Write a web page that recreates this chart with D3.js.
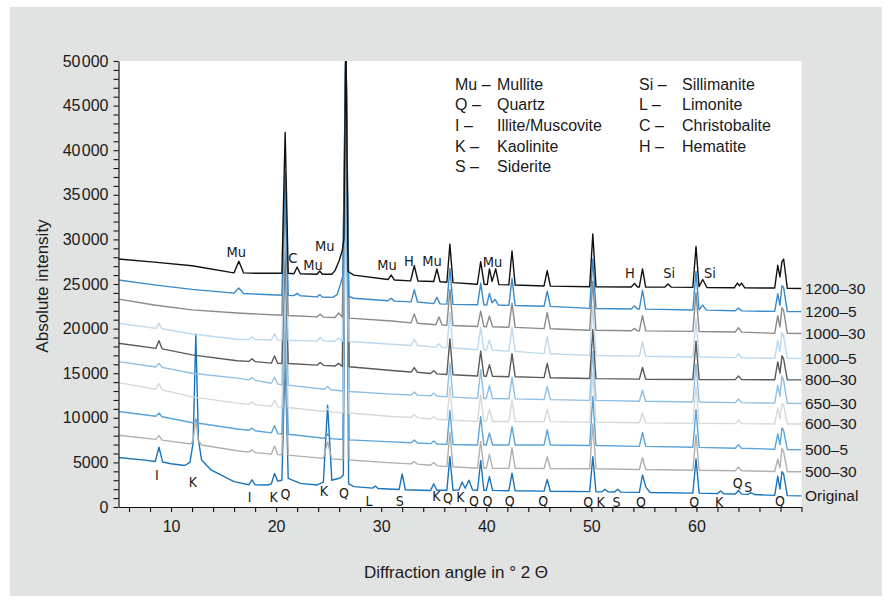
<!DOCTYPE html>
<html><head><meta charset="utf-8">
<script src="https://cdn.jsdelivr.net/npm/d3@7"></script>
<style>
body{margin:0;background:#fff;}
text{font-family:"Liberation Sans",Arial,sans-serif;fill:#1a1a1a;}
.narrow{font-family:"Liberation Sans Narrow","Arial Narrow","DejaVu Sans Condensed",sans-serif;}
</style></head><body>
<svg id="c" width="888" height="602"></svg>
<script>
// ---------- DATA (2θ in degrees, absolute intensity) ----------
const sOriginal = [[5,5550],[7.5,5250],[8.5,5100],[8.85,6700],[9.2,5050],[10,4850],[11.3,4650],[11.8,5000],[12.1,7200],[12.36,19400],[12.6,7600],[12.9,5300],[13.8,4150],[16.0,2850],[17.4,2500],[17.7,3050],[18.0,2480],[19.2,2470],[19.55,2600],[19.85,3750],[20.15,2900],[20.55,3000],[20.86,17000],[21.15,3200],[22.3,2650],[23.9,2470],[24.5,2800],[24.9,11400],[25.3,3000],[26.1,3250],[26.4,3600],[26.64,53000],[26.9,2600],[27.4,2280],[29.2,2120],[29.45,2350],[29.7,2080],[31.7,1960],[32.0,3700],[32.3,1930],[34.7,1850],[35.0,2600],[35.3,1880],[36.25,1870],[36.54,5650],[36.83,1880],[37.4,1900],[37.7,2800],[38.0,2100],[38.35,3000],[38.7,1900],[39.17,1880],[39.47,5200],[39.77,1880],[40.0,1870],[40.3,3400],[40.6,1860],[42.15,1830],[42.45,3800],[42.75,1820],[45.5,1780],[45.8,3100],[46.1,1770],[49.84,1720],[50.14,5650],[50.44,1710],[51.0,1700],[51.3,2000],[51.6,1690],[52.2,1680],[52.5,2000],[52.8,1670],[54.57,1640],[54.87,3600],[55.2,2200],[55.6,1620],[59.66,1560],[59.96,5400],[60.26,1550],[62.0,1500],[62.3,1800],[62.6,1480],[63.7,1450],[64.0,1850],[64.3,1440],[64.9,1420],[65.2,1600],[65.5,1400],[67.45,1300],[67.74,3450],[67.95,2000],[68.14,3950],[68.3,3700],[68.65,1270],[70,1250]];
const s500_30 = [[5,8050],[8.55,7580],[8.85,8000],[9.15,7500],[11.9,7060],[12.1,7500],[12.36,9900],[12.6,7400],[12.9,6950],[16.3,6300],[17.4,6150],[17.7,6400],[18.0,6100],[19.55,5930],[19.85,6830],[20.15,5880],[20.55,5840],[20.86,19800],[21.15,5810],[24.5,5450],[24.9,7300],[25.3,5400],[26.35,5300],[26.64,53000],[26.95,5270],[31,4950],[32.85,4830],[33.15,5080],[33.45,4810],[34.7,4680],[35.0,4980],[35.3,4640],[36.25,4530],[36.54,8330],[36.83,4510],[39.17,4340],[39.47,7340],[39.77,4340],[40.0,4340],[40.3,5890],[40.6,4340],[42.15,4330],[42.45,6630],[42.75,4330],[45.5,4310],[45.8,5610],[46.1,4310],[49.84,4280],[50.14,9300],[50.44,4280],[54.57,4200],[54.87,5550],[55.17,4200],[59.66,4120],[59.96,8120],[60.26,4120],[63.7,4060],[64.0,4460],[64.3,4060],[67.45,3980],[67.74,5380],[67.95,4400],[68.14,6580],[68.3,6200],[68.65,3960],[70,3950]];
const s500_5 = [[5,10700],[8.55,10180],[8.85,10530],[9.15,10120],[12.05,9440],[12.36,9750],[12.65,9390],[16.3,8750],[17.4,8600],[17.7,8850],[18.0,8550],[19.55,8310],[19.85,9110],[20.15,8230],[20.55,8190],[20.86,22200],[21.15,8150],[24.6,7700],[24.9,8200],[25.2,7670],[26.35,7570],[26.64,53000],[26.95,7530],[31,7300],[32.85,7200],[33.15,7500],[33.45,7180],[34.7,7100],[35.0,7400],[35.3,7070],[36.25,7020],[36.54,10820],[36.83,7010],[39.17,6950],[39.47,10150],[39.77,6950],[40.0,6950],[40.3,8300],[40.6,6950],[42.15,6950],[42.45,9000],[42.75,6950],[45.5,6950],[45.8,8650],[46.1,6950],[49.84,6900],[50.14,12400],[50.44,6900],[54.57,6800],[54.87,8350],[55.17,6800],[59.66,6700],[59.96,10900],[60.26,6690],[63.7,6590],[64.0,6990],[64.3,6580],[67.45,6480],[67.74,8180],[67.95,7000],[68.14,8860],[68.3,8550],[68.65,6450],[70,6400]];
const s600_30 = [[5,13950],[8.55,13200],[8.85,13850],[9.15,13130],[12,12350],[16.3,11650],[17.4,11520],[17.7,11770],[18.0,11480],[19.55,11290],[19.85,11990],[20.15,11230],[20.55,11180],[20.86,25150],[21.15,11150],[24.6,10700],[24.9,11000],[25.2,10660],[26.35,10570],[26.64,53000],[26.95,10540],[31,10150],[32.85,10050],[33.15,10340],[33.45,10020],[34.7,9870],[35.0,10150],[35.3,9830],[36.25,9750],[36.54,13550],[36.83,9730],[39.17,9600],[39.47,12600],[39.77,9600],[40.0,9600],[40.3,10950],[40.6,9590],[42.15,9590],[42.45,11990],[42.75,9590],[45.5,9570],[45.8,10970],[46.1,9570],[49.84,9520],[50.14,15020],[50.44,9520],[54.57,9440],[54.87,10540],[55.17,9430],[59.66,9380],[59.96,13580],[60.26,9380],[63.7,9350],[64.0,9750],[64.3,9350],[67.45,9310],[67.74,11110],[67.95,9900],[68.14,11610],[68.3,11400],[68.65,9300],[70,9300]];
const s650_30 = [[5,16300],[8.55,15700],[8.85,16100],[9.15,15650],[12,15000],[16.3,14450],[17.4,14250],[17.7,14500],[18.0,14200],[19.55,13870],[19.85,14550],[20.15,13800],[20.55,13690],[20.86,27700],[21.15,13660],[24.6,13200],[24.9,13500],[25.2,13150],[26.35,13000],[26.64,53000],[26.95,12950],[31,12650],[32.85,12560],[33.15,12900],[33.45,12540],[34.7,12460],[35.0,12750],[35.3,12440],[36.25,12340],[36.54,16150],[36.83,12320],[39.17,12180],[39.47,15380],[39.77,12170],[40.0,12170],[40.3,13620],[40.6,12160],[42.15,12130],[42.45,14580],[42.75,12120],[45.5,12050],[45.8,13500],[46.1,12040],[49.84,11950],[50.14,17450],[50.44,11950],[54.57,11850],[54.87,13100],[55.17,11850],[59.66,11770],[59.96,16070],[60.26,11770],[63.7,11700],[64.0,12100],[64.3,11700],[67.45,11640],[67.74,13640],[67.95,12400],[68.14,14700],[68.3,14200],[68.65,11620],[70,11600]];
const s800_30 = [[5,18350],[8.55,17780],[8.85,18650],[9.15,17730],[12,17050],[16.3,16400],[17.4,16320],[17.7,16620],[18.0,16300],[19.55,16130],[19.85,16930],[20.15,16110],[20.55,16090],[20.86,30100],[21.15,16080],[23.9,15900],[24.2,16200],[24.5,15880],[25.6,15800],[25.95,16100],[26.3,15760],[26.64,53000],[26.95,15720],[31,15300],[32.85,15130],[33.15,15630],[33.45,15100],[34.7,14970],[35.0,15270],[35.3,14930],[36.25,14850],[36.54,18850],[36.83,14830],[39.17,14680],[39.47,17480],[39.77,14670],[40.0,14660],[40.3,15950],[40.6,14650],[42.15,14610],[42.45,17200],[42.75,14600],[45.5,14500],[45.8,16100],[46.1,14490],[49.84,14400],[50.14,19900],[50.44,14390],[54.57,14340],[54.87,15640],[55.17,14330],[59.66,14290],[59.96,18600],[60.26,14290],[63.7,14280],[64.0,14680],[64.3,14280],[67.45,14260],[67.74,16260],[67.95,15000],[68.14,16950],[68.3,16600],[68.65,14250],[70,14250]];
const s1000_5 = [[5,20600],[8.55,20020],[8.85,20580],[9.15,19980],[12,19400],[16.3,18800],[17.4,18780],[17.7,19080],[18.0,18770],[19.55,18730],[19.85,19420],[20.15,18710],[20.55,18700],[20.86,32700],[21.15,18690],[23.9,18600],[24.2,19000],[24.5,18600],[25.6,18580],[25.95,18950],[26.3,18570],[26.64,53000],[26.95,18560],[31,18250],[32.85,18110],[33.15,18800],[33.45,18100],[35.2,17920],[35.5,18300],[35.8,17890],[36.25,17850],[36.54,21850],[36.83,17830],[39.17,17630],[39.47,20130],[39.77,17620],[40.0,17600],[40.3,18700],[40.6,17580],[42.15,17470],[42.45,20170],[42.75,17450],[45.5,17200],[45.8,19100],[46.1,17180],[49.84,17000],[50.14,22500],[50.44,16990],[54.57,16910],[54.87,18500],[55.17,16900],[59.66,16820],[59.96,21100],[60.26,16810],[63.7,16750],[64.0,17150],[64.3,16740],[67.45,16670],[67.74,18670],[67.95,17400],[68.14,19560],[68.3,19150],[68.65,16660],[70,16650]];
const s1000_30 = [[5,23300],[8.4,22650],[12,22100],[16.3,21750],[20.55,21490],[20.86,35500],[21.15,21470],[23.9,21310],[24.2,21600],[24.5,21290],[25.6,21250],[25.95,21750],[26.3,21300],[26.64,53000],[26.95,21180],[31,20850],[32.85,20640],[33.15,21650],[33.45,20600],[35.2,20430],[35.5,21300],[35.8,20400],[36.25,20370],[36.54,24400],[36.83,20350],[39.17,20230],[39.47,21950],[39.77,20220],[40.0,20210],[40.3,21400],[40.6,20200],[42.15,20150],[42.45,22850],[42.75,20140],[45.5,20000],[45.8,21800],[46.1,19990],[49.84,19820],[50.14,25300],[50.44,19810],[53.8,19760],[54.1,20000],[54.4,19750],[54.57,19750],[54.87,21450],[55.17,19740],[59.66,19690],[59.96,24000],[60.26,19680],[63.7,19620],[64.0,20100],[64.3,19610],[67.45,19470],[67.74,21450],[67.95,20200],[68.14,22350],[68.3,22000],[68.65,19460],[70,19450]];
const s1200_5 = [[5,25450],[8.4,24900],[12,24400],[16.0,23980],[16.45,24550],[16.9,23930],[20.55,23740],[20.86,37500],[21.15,23720],[21.7,23700],[22.0,23950],[22.3,23680],[23.9,23560],[24.15,23800],[24.4,23540],[25.4,23500],[25.8,23800],[26.1,24900],[26.35,25900],[26.64,53000],[26.9,23600],[27.4,23400],[30.65,23130],[30.95,23400],[31.25,23080],[32.85,23000],[33.15,24350],[33.45,22980],[35.0,22800],[35.3,23500],[35.6,22770],[36.25,22740],[36.54,26750],[36.83,22720],[39.17,22670],[39.47,25100],[39.77,22660],[40.05,22650],[40.3,23950],[40.55,22900],[40.85,23250],[41.15,22640],[42.15,22600],[42.45,25600],[42.75,22590],[45.5,22500],[45.8,24200],[46.1,22490],[49.84,22270],[50.14,27800],[50.44,22260],[53.8,22200],[54.1,22540],[54.4,22190],[54.57,22190],[54.87,24300],[55.17,22180],[59.66,22080],[59.96,26400],[60.25,22100],[60.6,22640],[60.95,22070],[63.7,22000],[64.0,22300],[64.3,21990],[67.45,21930],[67.74,23900],[67.95,22600],[68.14,24800],[68.3,24600],[68.65,21910],[70,21900]];
const s1200_30 = [[5,27800],[8.4,27450],[12,27050],[15.7,26300],[16.0,26250],[16.45,27550],[16.9,26250],[18,26200],[20.55,26200],[20.86,42000],[21.15,26200],[21.7,26150],[22.0,26900],[22.3,26150],[23.9,26100],[24.15,26450],[24.4,26100],[25.3,26100],[25.6,26500],[26.0,27600],[26.3,28800],[26.45,30000],[26.64,53000],[26.85,26400],[27.4,26000],[30.65,25500],[30.95,26000],[31.25,25450],[32.8,25350],[33.15,27050],[33.5,25330],[35.0,25280],[35.3,26680],[35.6,25250],[36.25,25200],[36.54,29450],[36.83,25150],[39.15,24970],[39.47,27500],[39.8,24960],[40.1,24950],[40.3,26700],[40.55,25300],[40.9,26700],[41.2,24930],[42.15,24900],[42.45,28700],[42.75,24880],[45.5,24780],[45.8,26500],[46.1,24760],[49.84,24690],[50.14,30600],[50.44,24690],[53.8,24670],[54.1,25050],[54.4,24670],[54.57,24670],[54.87,26700],[55.17,24660],[57.0,24650],[57.3,25000],[57.6,24650],[59.66,24620],[59.96,29200],[60.25,24700],[60.6,25500],[61.0,24610],[63.6,24580],[63.9,25100],[64.1,24800],[64.3,25100],[64.6,24570],[67.45,24550],[67.74,27100],[67.95,25800],[68.14,27500],[68.3,27800],[68.65,24520],[70,24500]];

const seriesNames = ["Original","500–30","500–5","600–30","650–30","800–30","1000–5","1000–30","1200–5","1200–30"];
const seriesValues = [sOriginal,s500_30,s500_5,s600_30,s650_30,s800_30,s1000_5,s1000_30,s1200_5,s1200_30];

const upperLabels = ["Mu","C","Mu","Mu","Mu","H","Mu","Mu","H","Si","Si"];
const upperAngles = [16.21,21.6,23.5,24.62,30.55,32.65,34.84,40.59,53.67,57.41,61.29];
const upperIntens = [28620,27880,27130,29260,27130,27610,27610,27430,26200,26270,26270];

const lowerLabels = ["I","K","I","K","Q","K","Q","L","S","K","Q","K","Q","Q","Q","Q","Q","K","S","Q","Q","K","Q","S","Q"];
const lowerAngles = [8.65,12.08,17.48,19.76,20.9,24.55,26.46,28.84,31.76,35.26,36.36,37.54,38.84,40.11,42.24,45.41,49.7,50.88,52.4,54.71,59.79,62.17,63.92,64.93,67.95];
const lowerIntens = [3590,2840,1090,1150,1460,1830,1540,710,710,1230,975,1120,710,710,710,710,590,590,590,590,590,590,2660,2280,710];

const legendAbbr1 = ["Mu –","Q –","I –","K –","S –"];
const legendName1 = ["Mullite","Quartz","Illite/Muscovite","Kaolinite","Siderite"];
const legendAbbr2 = ["Si –","L –","C –","H –"];
const legendName2 = ["Sillimanite","Limonite","Christobalite","Hematite"];

const xTickLabels = [10,20,30,40,50,60];
const yTickLabels = [0,5000,10000,15000,20000,25000,30000,35000,40000,45000,50000];
const xTitle = "Diffraction angle in ° 2 Θ";
const yTitle = "Absolute intensity";

// ---------- STYLE ----------
const seriesColors = ["#1a74bb","#b0b0b0","#5aa4d9","#d8d8d8","#8fbfe4","#5a5a5a","#bcd9ef","#8a8a8a","#3a8bcb","#111111"];

const svg = d3.select("#c");
const x = d3.scaleLinear().domain([5,70]).range([118.5,801.5]);
const y = d3.scaleLinear().domain([0,50000]).range([507,61]);

svg.append("rect").attr("x",0).attr("y",0).attr("width",888).attr("height",602).attr("fill","#fff");
svg.append("rect").attr("x",10).attr("y",7).attr("width",872).attr("height",589).attr("fill","#e1e2e2");
svg.append("rect").attr("x",x(5)).attr("y",y(50000)).attr("width",x(70)-x(5)).attr("height",y(0)-y(50000)).attr("fill","#fff");

svg.append("clipPath").attr("id","plotclip").append("rect")
  .attr("x",x(5)).attr("y",y(50000)).attr("width",x(70)-x(5)).attr("height",y(0)-y(50000));

const line = d3.line().x(d=>x(d[0])).y(d=>y(d[1]));
const gLines = svg.append("g").attr("clip-path","url(#plotclip)");
seriesValues.forEach((s,i)=>{
  gLines.append("path").attr("d",line(s)).attr("fill","none")
    .attr("stroke",seriesColors[i]).attr("stroke-width",1.4).attr("stroke-linejoin","round");
});

// axes
const fmtY = v => v>=10000 ? String(Math.floor(v/1000))+"\u200A"+String(v%1000).padStart(3,"0") : String(v);
const yAxis = d3.axisLeft(y).tickValues(d3.range(0,50001,1000)).tickSize(5).tickSizeOuter(0)
  .tickFormat(v => yTickLabels.includes(v) ? fmtY(v) : "");
const gy = svg.append("g").attr("transform",`translate(${x(5)},0)`).call(yAxis);
const xAxis = d3.axisBottom(x).tickValues(d3.range(6,71,2)).tickSize(5).tickSizeOuter(0)
  .tickFormat(v => xTickLabels.includes(v) ? String(v) : "");
const gx = svg.append("g").attr("transform",`translate(0,${y(0)})`).call(xAxis);
[gx,gy].forEach(g=>{
  g.select(".domain").attr("stroke","#111").attr("stroke-width",1.2);
  g.selectAll(".tick line").attr("stroke","#111").attr("stroke-width",1.1);
  g.selectAll(".tick text").style("font-family",'"Liberation Sans",Arial,sans-serif').style("font-size","16px").attr("fill","#1a1a1a");
});
gy.selectAll(".tick text").attr("x",-10);
gx.selectAll(".tick text").attr("y",14);

svg.append("text").attr("x",456).attr("y",578).attr("text-anchor","middle").style("font-size","17px").text(xTitle);
svg.append("text").attr("transform","translate(48,286) rotate(-90)").attr("text-anchor","middle").style("font-size","17px").text(yTitle);

// series labels at right, at each series' final intensity
seriesValues.forEach((s,i)=>{
  svg.append("text").attr("x",805).attr("y",y(s[s.length-1][1])).attr("dy","0.35em")
    .style("font-size","15.5px").text(seriesNames[i]);
});

// peak labels
upperLabels.forEach((t,i)=>{
  svg.append("text").attr("class","narrow").attr("x",x(upperAngles[i])).attr("y",y(upperIntens[i])).attr("dy","0.35em")
    .attr("text-anchor","middle").attr("fill","#1a1a1a").style("font-size","14.5px").text(t);
});
lowerLabels.forEach((t,i)=>{
  svg.append("text").attr("class","narrow").attr("x",x(lowerAngles[i])).attr("y",y(lowerIntens[i])).attr("dy","0.35em")
    .attr("text-anchor","middle").attr("fill","#1a1a1a").style("font-size","14px").text(t);
});

// legend
const legRows = [84,104.7,125.3,146,166.7];
legendAbbr1.forEach((t,i)=>{
  svg.append("text").attr("x",455).attr("y",legRows[i]).attr("dy","0.35em").style("font-size","16px").text(t);
  svg.append("text").attr("x",497).attr("y",legRows[i]).attr("dy","0.35em").style("font-size","16px").text(legendName1[i]);
});
legendAbbr2.forEach((t,i)=>{
  svg.append("text").attr("x",639).attr("y",legRows[i]).attr("dy","0.35em").style("font-size","16px").text(t);
  svg.append("text").attr("x",682).attr("y",legRows[i]).attr("dy","0.35em").style("font-size","16px").text(legendName2[i]);
});
</script>
</body></html>
